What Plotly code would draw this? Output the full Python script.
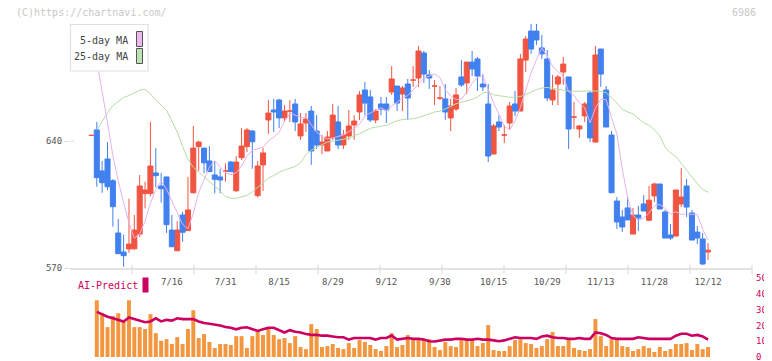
import plotly.graph_objects as go
import pandas as pd

# The page body adds an 8px margin; the figure is laid out in screen pixels
# and shifted by that offset.
SCREEN_W, SCREEN_H = 772, 361
OFF = 8
W, H = SCREEN_W - OFF, SCREEN_H - OFF

# ---------------- data ----------------
jp_holidays = ["2025-07-21", "2025-08-11", "2025-09-15", "2025-09-23",
               "2025-10-13", "2025-11-03", "2025-11-24"]
dates = [d.strftime("%Y-%m-%d") for d in
         pd.bdate_range("2025-06-25", "2025-12-12", freq="C", holidays=jp_holidays)]

tick_dates = ["2025-07-16", "2025-07-31", "2025-08-15", "2025-08-29", "2025-09-12",
              "2025-09-30", "2025-10-15", "2025-10-29", "2025-11-13", "2025-11-28",
              "2025-12-12"]
tick_labels = ["7/16", "7/31", "8/15", "8/29", "9/12", "9/30", "10/15", "10/29",
               "11/13", "11/28", "12/12"]

open_ = [643.1, 646.1, 623.5, 630.1, 618.1, 589.3, 578.8, 580.5, 580.6, 588.7,
         611.0, 611.0, 622.4, 615.2, 620.2, 590.9, 579.5, 599.2, 590.6, 611.5,
         636.9, 636.1, 629.0, 621.3, 620.2, 623.5, 628.4, 612.6, 630.8, 636.9,
         645.5, 609.9, 626.8, 651.6, 657.1, 662.6, 652.7, 656.5, 660.4, 642.8,
         649.9, 656.5, 645.5, 637.8, 634.5, 641.7, 650.5, 637.8, 642.8, 648.8,
         656.0, 668.1, 664.3, 651.6, 660.4, 660.4, 667.0, 670.3, 665.9, 671.4,
         673.6, 674.7, 688.5, 676.4, 670.3, 663.7, 663.2, 652.7, 657.6, 675.3,
         672.0, 683.5, 685.2, 671.4, 660.4, 632.8, 650.5, 643.3, 649.9, 660.4,
         656.5, 684.6, 700.6, 700.6, 691.3, 685.2, 662.6, 671.4, 678.0, 675.3,
         653.2, 646.6, 653.8, 666.5, 639.4, 690.7, 668.1, 643.3, 606.9, 598.1,
         603.1, 588.7, 599.2, 605.3, 596.3, 609.7, 616.3, 600.9, 588.2, 587.6,
         605.3, 615.2, 600.3, 589.8, 586.0, 578.8]
high = [643.1, 650.5, 629.0, 639.4, 619.0, 597.0, 588.4, 608.2, 599.2, 621.3,
        617.6, 650.5, 636.1, 622.4, 620.2, 599.2, 595.9, 601.0, 620.2, 648.3,
        640.2, 636.1, 637.2, 629.0, 624.7, 627.7, 629.0, 631.7, 647.2, 647.2,
        646.1, 629.0, 636.1, 662.6, 663.2, 663.2, 659.8, 662.6, 663.2, 655.4,
        655.4, 659.3, 654.3, 643.3, 645.5, 660.4, 659.3, 646.1, 657.1, 654.3,
        667.6, 672.5, 668.1, 657.6, 664.3, 664.3, 681.3, 670.3, 670.3, 674.2,
        681.3, 692.4, 689.6, 679.1, 673.6, 670.3, 671.4, 663.2, 669.2, 684.6,
        683.5, 689.6, 686.3, 676.9, 671.4, 649.4, 654.3, 648.8, 661.5, 667.6,
        688.0, 697.9, 704.5, 704.5, 698.4, 690.2, 676.4, 676.4, 686.3, 675.3,
        661.5, 648.8, 661.5, 667.6, 692.4, 690.7, 670.3, 645.5, 609.1, 602.0,
        609.1, 603.1, 604.2, 610.2, 615.2, 617.0, 616.3, 602.0, 594.3, 613.0,
        625.1, 619.1, 602.0, 593.1, 589.3, 583.8]
low = [643.1, 614.8, 611.5, 613.0, 592.8, 577.9, 570.7, 578.4, 580.0, 587.0,
       602.8, 609.5, 614.5, 606.0, 589.3, 581.7, 579.5, 584.5, 590.6, 611.0,
       623.5, 622.2, 623.1, 611.2, 611.2, 617.6, 623.1, 611.9, 629.5, 633.9,
       624.7, 608.8, 612.4, 643.9, 645.0, 647.2, 650.5, 650.5, 645.5, 640.6,
       645.0, 626.8, 635.6, 632.8, 634.5, 640.6, 635.6, 635.6, 640.6, 640.6,
       651.6, 654.3, 650.5, 649.9, 654.3, 649.9, 665.4, 656.5, 656.5, 651.6,
       669.8, 669.8, 672.0, 668.7, 659.8, 662.6, 651.6, 645.5, 656.5, 669.8,
       665.9, 675.8, 667.6, 667.6, 628.4, 632.8, 645.5, 638.9, 646.6, 653.8,
       656.5, 678.0, 688.0, 693.0, 685.2, 662.0, 659.8, 659.8, 670.9, 635.6,
       646.6, 641.7, 650.5, 639.4, 639.4, 669.8, 647.7, 611.5, 591.5, 589.8,
       596.5, 588.7, 590.4, 601.4, 595.8, 606.4, 602.5, 586.5, 585.4, 587.6,
       603.6, 598.1, 585.4, 583.2, 571.7, 574.4]
close = [643.1, 619.8, 617.0, 614.8, 603.8, 577.9, 576.8, 583.2, 590.9, 615.2,
         613.0, 626.2, 620.9, 613.7, 593.9, 581.7, 590.9, 589.7, 602.0, 636.1,
         639.4, 628.0, 623.1, 618.9, 618.5, 623.5, 623.1, 628.4, 637.2, 646.1,
         639.6, 626.2, 633.4, 655.4, 656.0, 652.7, 656.5, 656.5, 650.5, 649.4,
         652.1, 634.5, 637.8, 639.4, 642.2, 654.3, 637.8, 643.3, 648.3, 651.0,
         665.4, 660.9, 651.6, 656.5, 657.6, 657.1, 674.2, 660.9, 669.2, 663.7,
         673.6, 689.6, 676.9, 674.7, 670.3, 663.7, 656.0, 659.3, 665.4, 670.9,
         683.5, 679.7, 675.8, 669.8, 631.7, 648.3, 647.7, 643.3, 659.3, 656.5,
         685.2, 696.2, 690.7, 695.7, 688.0, 663.7, 668.1, 675.3, 682.4, 646.6,
         653.2, 648.3, 660.4, 641.7, 687.4, 676.9, 647.7, 611.5, 595.4, 592.6,
         596.5, 599.2, 597.6, 601.4, 607.4, 616.3, 602.5, 586.5, 586.5, 613.0,
         609.1, 603.6, 585.4, 586.5, 572.2, 579.8]

ma5 = [None, 684.0, 668.0, 650.0, 632.0, 618.0, 606.0, 595.0, 586.5, 588.8,
       595.8, 605.7, 613.2, 617.8, 613.5, 607.3, 600.2, 594.0, 591.6, 600.1,
       611.6, 619.0, 625.7, 629.1, 625.6, 622.4, 621.4, 622.5, 626.1, 631.7,
       634.9, 635.5, 636.5, 640.1, 642.1, 644.7, 650.8, 655.4, 654.4, 653.1,
       653.0, 648.6, 644.9, 642.6, 641.2, 641.6, 642.3, 643.4, 645.2, 646.9,
       649.2, 653.8, 655.4, 657.1, 658.4, 656.7, 659.4, 661.3, 663.8, 665.0,
       668.3, 671.4, 674.6, 675.7, 677.0, 675.0, 668.3, 664.8, 662.9, 663.1,
       667.0, 671.8, 675.1, 675.9, 668.1, 661.1, 654.7, 648.2, 646.1, 651.0,
       658.4, 668.1, 677.6, 684.9, 691.2, 686.9, 681.2, 678.2, 675.5, 667.2,
       665.1, 661.2, 658.2, 650.0, 658.2, 662.9, 662.8, 653.0, 643.8, 624.8,
       608.7, 599.0, 596.3, 597.5, 600.4, 604.4, 605.0, 602.8, 599.8, 601.0,
       599.5, 599.7, 599.5, 599.5, 591.4, 585.5]
ma25 = [None, 646.0, 651.0, 655.5, 659.5, 662.0, 664.0, 665.0, 666.5, 668.0,
        668.5, 666.0, 662.5, 660.0, 657.0, 651.0, 645.0, 637.0, 630.0, 625.5,
        623.0, 620.5, 618.0, 615.5, 612.5, 609.5, 608.4, 608.4, 609.3, 610.0,
        612.0, 614.5, 617.0, 619.5, 621.0, 622.8, 624.0, 624.8, 626.0, 628.0,
        632.5, 635.0, 636.7, 638.0, 639.4, 640.0, 640.5, 641.0, 641.5, 643.0,
        644.0, 645.5, 647.0, 647.6, 648.2, 648.7, 650.0, 651.2, 651.8, 652.0,
        652.3, 652.9, 654.0, 655.3, 656.0, 656.4, 657.5, 659.0, 660.5, 661.3,
        662.0, 663.0, 664.3, 666.5, 667.0, 665.5, 665.0, 664.5, 664.1, 664.1,
        664.5, 665.6, 667.0, 668.3, 669.2, 669.5, 669.1, 668.5, 667.9, 667.5,
        667.4, 667.5, 667.6, 667.6, 667.6, 667.4, 666.6, 663.8, 661.0, 657.5,
        656.0, 655.0, 652.4, 650.0, 648.8, 646.2, 643.0, 636.5, 633.5, 631.5,
        627.7, 623.8, 620.0, 616.5, 613.3, 611.7]

volume = [None, 35.9, 27.7, 18.9, 25.9, 27.7, 22.7, 35.9, 18.9, 18.9,
          17.7, 27.1, 15.1, 10.3, 11.3, 8.2, 12.6, 8.2, 17.7, 29.6,
          12.0, 14.5, 9.5, 5.7, 8.2, 8.2, 7.6, 13.2, 13.2, 5.7,
          13.2, 16.4, 13.9, 18.9, 13.9, 11.3, 12.0, 8.8, 13.2, 6.3,
          5.0, 20.8, 17.7, 6.3, 6.9, 8.2, 5.7, 5.0, 8.8, 5.7,
          10.7, 9.5, 7.6, 5.0, 3.8, 6.9, 15.1, 6.3, 7.6, 13.9,
          11.3, 11.3, 11.3, 11.3, 6.3, 4.4, 9.5, 6.9, 6.3, 10.7,
          10.7, 10.7, 6.9, 8.8, 20.2, 4.4, 3.8, 3.8, 6.9, 10.7,
          11.3, 8.8, 8.2, 5.7, 6.9, 11.3, 15.8, 6.9, 6.9, 10.7,
          5.7, 4.4, 3.8, 5.0, 24.0, 13.2, 6.9, 11.3, 11.3, 6.9,
          6.3, 3.8, 5.0, 6.9, 5.7, 3.2, 6.3, 3.8, 5.0, 8.2,
          8.2, 8.8, 4.4, 8.2, 5.0, 6.3]
ai_predict = [None, 28.6, 27.0, 25.5, 24.5, 23.5, 22.5, 25.0, 24.0, 23.0,
              22.0, 22.5, 24.5, 22.5, 23.5, 23.0, 24.5, 24.0, 24.0, 24.0,
              22.5, 21.5, 21.0, 20.5, 20.0, 19.0, 18.5, 17.5, 18.5, 18.8,
              17.5, 16.5, 17.5, 18.5, 18.5, 17.0, 15.5, 17.0, 16.0, 15.5,
              14.5, 14.0, 14.0, 13.5, 13.5, 13.0, 12.5, 12.5, 11.0, 12.0,
              12.0, 12.0, 12.0, 11.0, 12.0, 12.0, 13.6, 11.0, 11.5, 12.0,
              11.5, 11.5, 11.0, 10.0, 9.8, 10.5, 11.0, 11.0, 11.5, 11.5,
              11.0, 11.0, 11.5, 11.0, 11.0, 10.5, 10.0, 10.5, 11.5, 12.5,
              12.0, 12.2, 12.0, 11.5, 13.0, 13.5, 12.5, 12.0, 12.0, 11.5,
              11.5, 12.0, 11.5, 11.5, 15.5, 15.0, 14.0, 12.0, 11.5, 11.5,
              11.5, 11.5, 12.5, 12.0, 11.5, 11.5, 11.5, 11.5, 11.5, 13.5,
              14.7, 14.7, 13.5, 14.0, 13.0, 11.0]

price_ticks = [570, 640]
volume_ticks = [0, 10, 20, 30, 40, 50]

# ---------------- style ----------------
RED = "#f15541"
BLUE = "#4180ef"
PINK = "#e8b2ea"
GREEN = "#b6dca6"
ORANGE = "#f29640"
MAG = "#cc0060"
FONT = "DejaVu Sans Mono"


def px(x):
    """screen x pixel -> paper fraction"""
    return (x - OFF) / W


def py(y):
    """screen y pixel -> paper fraction"""
    return 1 - (y - OFF) / H


fig = go.Figure()

up_idx = [i for i in range(len(dates)) if close[i] >= open_[i]]
dn_idx = [i for i in range(len(dates)) if close[i] < open_[i]]


def pick(values, idx):
    return [values[i] for i in idx]


for idx, col in ((up_idx, RED), (dn_idx, BLUE)):
    fig.add_trace(go.Candlestick(
        x=pick(dates, idx), open=pick(open_, idx), high=pick(high, idx),
        low=pick(low, idx), close=pick(close, idx),
        increasing=dict(line=dict(color=col, width=1), fillcolor=col),
        decreasing=dict(line=dict(color=col, width=1), fillcolor=col),
        whiskerwidth=0, hoverinfo="skip", xaxis="x", yaxis="y"))

fig.add_trace(go.Scatter(x=dates, y=ma25, mode="lines", line=dict(color=GREEN, width=1),
                         hoverinfo="skip", xaxis="x", yaxis="y"))
fig.add_trace(go.Scatter(x=dates, y=ma5, mode="lines", line=dict(color=PINK, width=1),
                         hoverinfo="skip", xaxis="x", yaxis="y"))

fig.add_trace(go.Bar(x=dates, y=volume, marker=dict(color=ORANGE, line=dict(width=0)),
                     width=0.74, hoverinfo="skip", xaxis="x2", yaxis="y2"))
fig.add_trace(go.Scatter(x=dates, y=ai_predict, mode="lines", line=dict(color=MAG, width=2.6),
                         hoverinfo="skip", xaxis="x2", yaxis="y2"))

X0, X1 = 70, 752
x_dom = [px(X0), px(X1)]
xrange = [-4.0, 123.2]

price_top = 570 + (268 - 20) * 70 / 127

shapes = []
# crossing ticks on the date axis
for k in range(1, 12):
    xp = px(X0 + k * (X1 - X0) / 11)
    shapes.append(dict(type="line", xref="paper", yref="paper", x0=xp, x1=xp,
                       y0=py(265), y1=py(274), line=dict(color="#dedede", width=1.2)))
# inner part of the 640 tick (the tick crosses the plot edge)
shapes.append(dict(type="line", xref="paper", yref="y", x0=px(70), x1=px(74),
                   y0=price_ticks[1], y1=price_ticks[1], line=dict(color="#dcdcdc", width=1)))
# legend box
shapes.append(dict(type="rect", xref="paper", yref="paper", x0=px(70.5), x1=px(148),
                   y0=py(71), y1=py(24.5), fillcolor="white", line=dict(color="#e0e0e0", width=1.2),
                   layer="above"))
shapes.append(dict(type="rect", xref="paper", yref="paper", x0=px(136.5), x1=px(142.5),
                   y0=py(46.5), y1=py(31.5), fillcolor="#ecb8ee", line=dict(color="#555555", width=1),
                   layer="above"))
shapes.append(dict(type="rect", xref="paper", yref="paper", x0=px(136.5), x1=px(142.5),
                   y0=py(63.5), y1=py(48.5), fillcolor="#bfe2b2", line=dict(color="#555555", width=1),
                   layer="above"))
# AI-Predict swatch
shapes.append(dict(type="rect", xref="paper", yref="paper", x0=px(142.5), x1=px(148.5),
                   y0=py(292.5), y1=py(277.5), fillcolor=MAG, line=dict(width=0), layer="above"))

annotations = [
    dict(text="(C)https://chartnavi.com/", x=px(14), y=py(12.5), xref="paper", yref="paper",
         xanchor="left", yanchor="middle", showarrow=False,
         font=dict(family=FONT, size=10, color="#c8c8c8")),
    dict(text="6986", x=px(758), y=py(12.5), xref="paper", yref="paper",
         xanchor="right", yanchor="middle", showarrow=False,
         font=dict(family=FONT, size=10, color="#c8c8c8")),
    dict(text="5-day MA", x=px(130), y=py(40), xref="paper", yref="paper",
         xanchor="right", yanchor="middle", showarrow=False,
         font=dict(family=FONT, size=10, color="#444444")),
    dict(text="25-day MA", x=px(130), y=py(56.5), xref="paper", yref="paper",
         xanchor="right", yanchor="middle", showarrow=False,
         font=dict(family=FONT, size=10, color="#444444")),
    dict(text="AI-Predict", x=px(75.5), y=py(285.5), xref="paper", yref="paper",
         xanchor="left", yanchor="middle", showarrow=False,
         font=dict(family=FONT, size=10, color=MAG)),
]

fig.update_layout(
    width=W, height=H, margin=dict(l=0, r=0, t=0, b=0, autoexpand=False),
    paper_bgcolor="white", plot_bgcolor="white", showlegend=False,
    boxgap=0.06, boxgroupgap=0.0, bargap=0.25,
    font=dict(family=FONT, size=9, color="#555555"),
    xaxis=dict(domain=x_dom, type="category", categoryorder="array", categoryarray=dates,
               range=xrange, tickvals=tick_dates, ticktext=tick_labels, ticks="",
               showline=True, linecolor="#e3e3e3", linewidth=2, showgrid=False,
               zeroline=False, rangeslider=dict(visible=False), anchor="y", automargin=False,
               tickfont=dict(family=FONT, size=9, color="#555555"), ticklabelstandoff=4),
    yaxis=dict(domain=[py(268), py(20)], range=[570, price_top], tickvals=price_ticks,
               ticks="outside", ticklen=5, tickcolor="#dcdcdc", showline=False,
               showgrid=False, zeroline=False, anchor="x", automargin=False,
               tickfont=dict(family=FONT, size=9, color="#555555")),
    xaxis2=dict(domain=x_dom, type="category", categoryorder="array", categoryarray=dates,
                range=xrange, visible=False, anchor="y2", automargin=False),
    yaxis2=dict(domain=[py(357), py(278)], range=[0, 50], tickvals=volume_ticks,
                side="right", anchor="x2", ticks="", showline=False, showgrid=False,
                zeroline=False, automargin=False, ticklabeloverflow="allow",
                ticklabelstandoff=3, tickfont=dict(family=FONT, size=9, color=MAG)),
    shapes=shapes, annotations=annotations,
)

fig.write_html("out.html")
